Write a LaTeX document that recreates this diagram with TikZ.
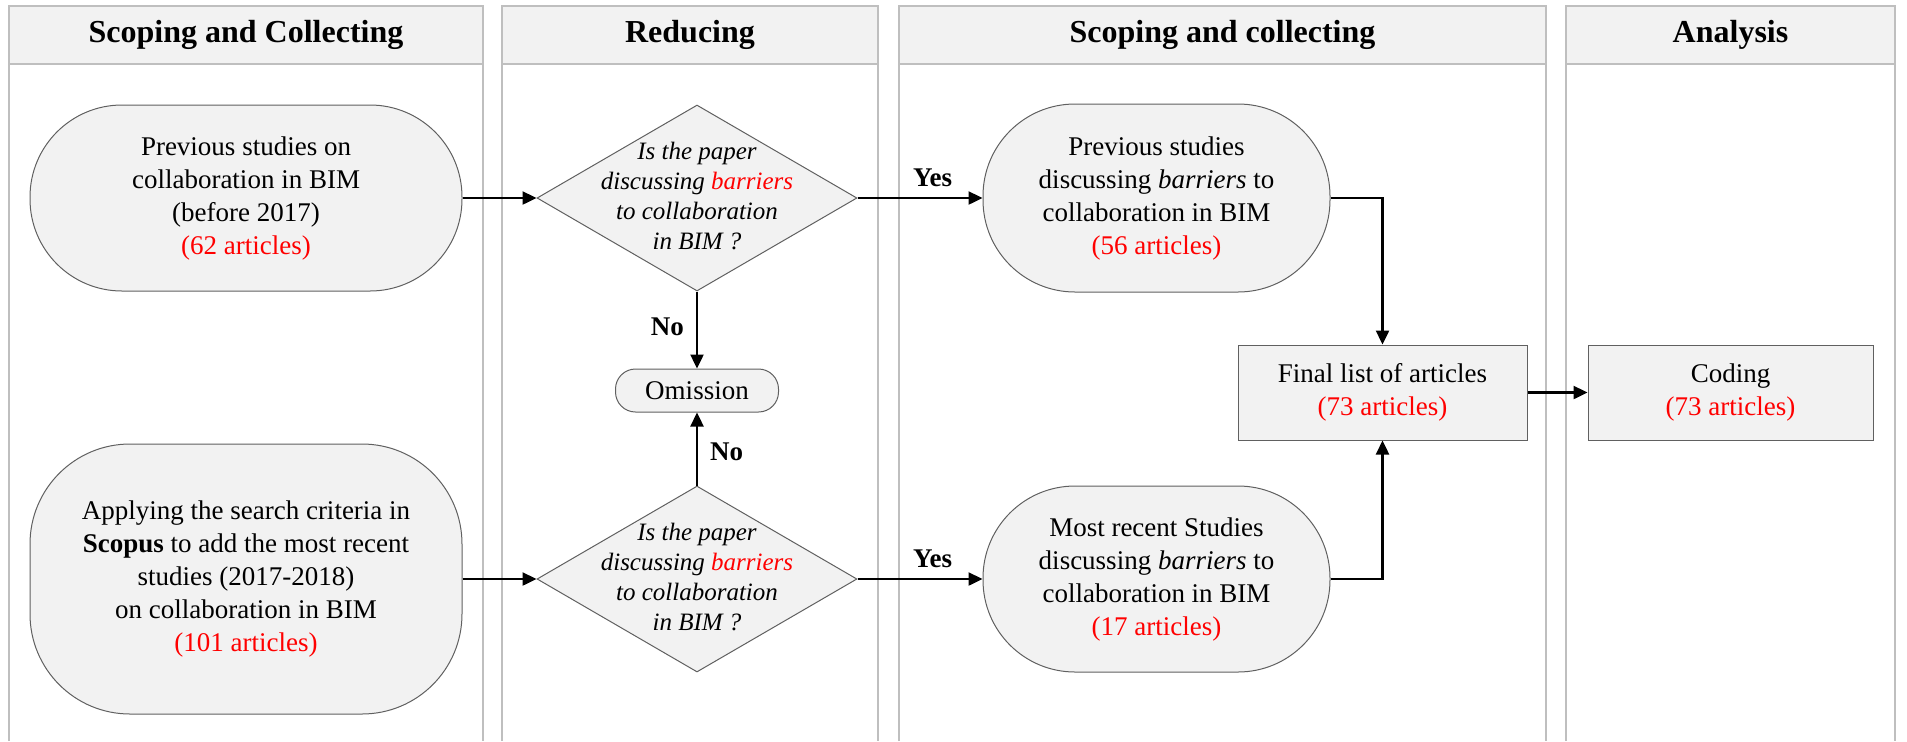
\documentclass[tikz,border=0pt]{standalone}
\usepackage{fontspec}
\setmainfont{Liberation Serif}
\usetikzlibrary{shapes.geometric,arrows.meta}

\definecolor{lanegray}{RGB}{191,191,191}
\definecolor{boxfill}{RGB}{242,242,242}
\definecolor{boxline}{RGB}{96,96,96}
\definecolor{countred}{RGB}{255,0,0}

\newcommand{\cnt}[1]{\textcolor{countred}{#1}}
\newcommand{\qtext}[1]{\makebox[0pt]{\smash{\raisebox{-3pt}{\begin{tabular}{@{}c@{}}#1\end{tabular}}}}}

\begin{document}
\begin{tikzpicture}[x=0.5pt,y=0.5pt,yscale=-1,
    header/.style={draw=lanegray, fill=boxfill, line width=0.75pt, minimum height=29pt, inner sep=0pt, font=\fontsize{16}{18}\selectfont\bfseries},
    lane/.style={draw=lanegray, line width=0.75pt},
    term/.style={rectangle, draw=boxline, fill=boxfill, line width=0.5pt, rounded corners=46pt, align=center, inner sep=2pt, font=\fontsize{13.5}{16.5}\selectfont},
    decision/.style={diamond, draw=boxline, fill=boxfill, line width=0.5pt, inner sep=0pt, minimum width=160pt, minimum height=93pt, font=\fontsize{12.5}{15}\selectfont\itshape},
    proc/.style={rectangle, draw=boxline, fill=boxfill, line width=0.5pt, align=center, minimum height=47.5pt, font=\fontsize{13.5}{16.5}\selectfont},
    flow/.style={line width=1.2pt, -{Triangle[length=7pt,width=6.5pt]}},
    answer/.style={font=\fontsize{13.5}{16}\selectfont\bfseries, inner sep=2pt}]
    \useasboundingbox (0,0) rectangle (1907,741);

    %Shape: Lanes
    \draw [lane] (9,741) -- (9,6) -- (483,6) -- (483,741) ;
    \draw [lane] (502,741) -- (502,6) -- (878,6) -- (878,741) ;
    \draw [lane] (899,741) -- (899,6) -- (1546,6) -- (1546,741) ;
    \draw [lane] (1566,741) -- (1566,6) -- (1895,6) -- (1895,741) ;

    % Lane headers
    \node [header, minimum width=237pt] (h1) at (246,35) {Scoping and Collecting};
    \node [header, minimum width=188pt] (h2) at (690,35) {Reducing};
    \node [header, minimum width=323.5pt] (h3) at (1222.5,35) {Scoping and collecting};
    \node [header, minimum width=164.5pt] (h4) at (1730.5,35) {Analysis};

    %Shape: Terminators
    \node [term, minimum width=216pt, minimum height=93pt] (prev) at (246,198) {Previous studies on\\collaboration in BIM\\(before 2017)\\\cnt{(62 articles)}};
    \node [term, minimum width=216pt, minimum height=135pt, rounded corners=50pt] (scopus) at (246,579) {Applying the search criteria in\\\textbf{Scopus} to add the most recent\\studies (2017-2018)\\on collaboration in BIM\\\cnt{(101 articles)}};
    \node [term, minimum width=173.5pt, minimum height=94pt] (prevbar) at (1156.5,198) {Previous studies\\discussing \textit{barriers} to\\collaboration in BIM\\\cnt{(56 articles)}};
    \node [term, minimum width=173.5pt, minimum height=93pt] (recentbar) at (1156.5,579) {Most recent Studies\\discussing \textit{barriers} to\\collaboration in BIM\\\cnt{(17 articles)}};
    \node [term, minimum width=81.5pt, minimum height=21.5pt, rounded corners=10pt] (omit) at (697,390.5) {Omission};

    %Shape: Decisions
    \node [decision] (q1) at (697,198) {\qtext{Is the paper\\discussing \cnt{barriers}\\to collaboration\\in BIM ?}};
    \node [decision] (q2) at (697,579) {\qtext{Is the paper\\discussing \cnt{barriers}\\to collaboration\\in BIM ?}};

    %Shape: Processes
    \node [proc, minimum width=144.5pt] (final) at (1382.5,392.5) {Final list of articles\\\cnt{(73 articles)}};
    \node [proc, minimum width=142.5pt] (coding) at (1730.5,392.5) {Coding\\\cnt{(73 articles)}};

    % Connectors
    \draw [flow] (prev.east) -- (q1.west) ;
    \draw [flow] (scopus.east) -- (q2.west) ;
    \draw [flow] (q1.east) -- node [answer, above=3pt, pos=0.6] (yes1) {Yes} (prevbar.west) ;
    \draw [flow] (q2.east) -- node [answer, above=3pt, pos=0.6] (yes2) {Yes} (recentbar.west) ;
    \draw [flow] (q1.south) -- node [answer, left=4pt, pos=0.46] (no1) {No} (omit.north) ;
    \draw [flow] (q2.north) -- node [answer, right=4pt, pos=0.46] (no2) {No} (omit.south) ;
    \draw [flow] (prevbar.east) -| (final.north) ;
    \draw [flow] (recentbar.east) -| (final.south) ;
    \draw [flow] (final.east) -- (coding.west) ;
\end{tikzpicture}
\end{document}
